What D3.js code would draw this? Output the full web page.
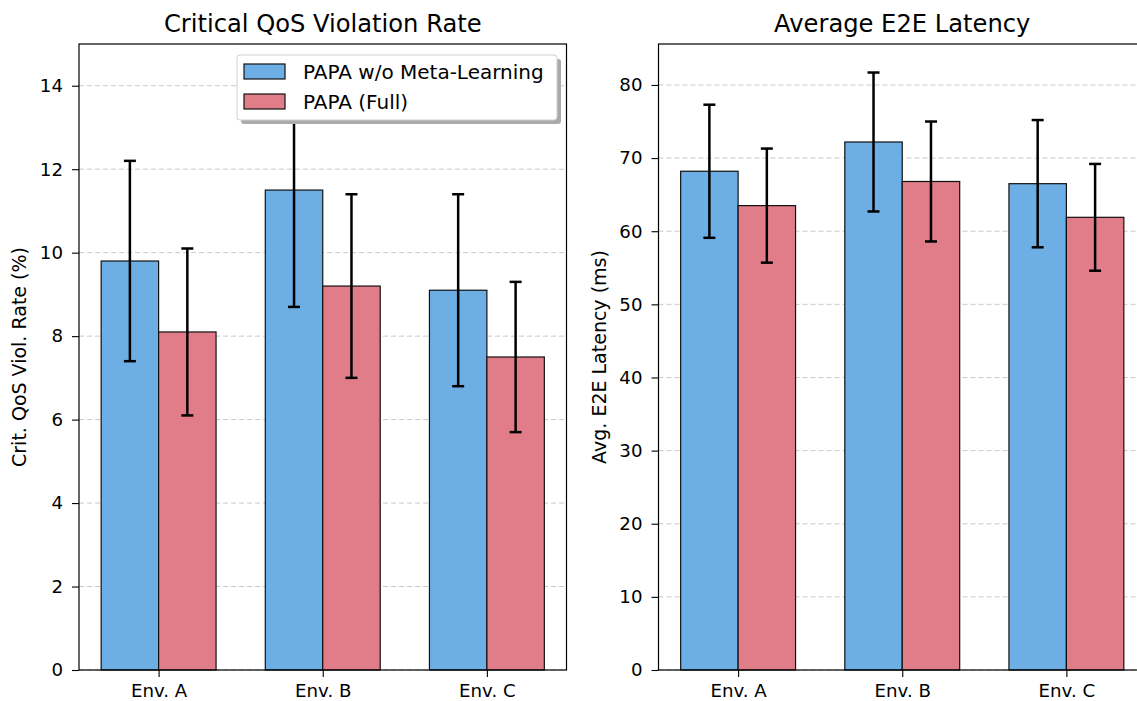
<!DOCTYPE html>
<html>
<head>
<meta charset="utf-8">
<script src="https://cdn.jsdelivr.net/npm/d3@7"></script>
<style>
  body { margin: 0; background: #fff; }
  svg { display: block; font-family: "DejaVu Sans", sans-serif; }
</style>
</head>
<body>
<svg id="chart" width="1137" height="701"></svg>
<script>
// data
const categories = ["Env. A", "Env. B", "Env. C"]
const seriesNames = ["PAPA w/o Meta-Learning", "PAPA (Full)"]
const seriesColors = ["#6daee5", "#e17d88"]

const violMeta = [9.8, 11.5, 9.1]
const violMetaErr = [2.4, 2.8, 2.3]
const violFull = [8.1, 9.2, 7.5]
const violFullErr = [2.0, 2.2, 1.8]
const violTicks = [0, 2, 4, 6, 8, 10, 12, 14]

const latMeta = [68.2, 72.2, 66.5]
const latMetaErr = [9.1, 9.5, 8.7]
const latFull = [63.5, 66.8, 61.9]
const latFullErr = [7.8, 8.2, 7.3]
const latTicks = [0, 10, 20, 30, 40, 50, 60, 70, 80]

const svg = d3.select("#chart")
const barW = 0.35

function drawPanel(opts) {
    let left = opts.left, right = opts.right
    let top = 44, bottom = 670
    let g = svg.append("g")

    let x = d3.scaleLinear()
        .domain([-0.485, categories.length - 1 + 0.485])
        .range([left, right])
    let y = d3.scaleLinear()
        .domain([0, opts.ymax])
        .range([bottom, top])

    // grid
    g.append("g")
        .selectAll("line")
        .data(opts.ticks)
        .join("line")
        .attr("x1", left)
        .attr("x2", right)
        .attr("y1", d => y(d))
        .attr("y2", d => y(d))
        .attr("stroke", "#c9c9c9")
        .attr("stroke-width", 1)
        .attr("stroke-dasharray", "5,3")

    let series = [
        {vals: opts.a, err: opts.aErr, off: -barW / 2, color: seriesColors[0]},
        {vals: opts.b, err: opts.bErr, off: barW / 2, color: seriesColors[1]}
    ]

    series.forEach(s => {
        g.append("g")
            .selectAll("rect")
            .data(s.vals)
            .join("rect")
            .attr("x", (d, i) => x(i + s.off - barW / 2))
            .attr("y", d => y(d))
            .attr("width", x(barW) - x(0))
            .attr("height", d => y(0) - y(d))
            .attr("fill", s.color)
            .attr("stroke", "#111")
            .attr("stroke-width", 1.2)
    })

    series.forEach(s => {
        let eb = g.append("g")
            .attr("stroke", "#000")
            .attr("stroke-width", 2.5)
        eb.selectAll("line.v")
            .data(s.vals)
            .join("line")
            .attr("class", "v")
            .attr("x1", (d, i) => x(i + s.off))
            .attr("x2", (d, i) => x(i + s.off))
            .attr("y1", (d, i) => y(d - s.err[i]))
            .attr("y2", (d, i) => y(d + s.err[i]))
        eb.selectAll("line.cap")
            .data(s.vals.flatMap((d, i) => [{i: i, v: d - s.err[i]}, {i: i, v: d + s.err[i]}]))
            .join("line")
            .attr("class", "cap")
            .attr("x1", d => x(d.i + s.off) - 6)
            .attr("x2", d => x(d.i + s.off) + 6)
            .attr("y1", d => y(d.v))
            .attr("y2", d => y(d.v))
    })

    // axes
    let yAxis = g.append("g")
        .attr("transform", `translate(${left},0)`)
        .call(d3.axisLeft(y).tickValues(opts.ticks).tickSize(7).tickPadding(9))
    let xAxis = g.append("g")
        .attr("transform", `translate(0,${bottom})`)
        .call(d3.axisBottom(x).tickValues(d3.range(categories.length))
            .tickFormat(i => categories[i]).tickSize(7).tickPadding(7))
    ;[yAxis, xAxis].forEach(a => {
        a.select(".domain").remove()
        a.selectAll(".tick line").attr("stroke", "#000").attr("stroke-width", 1.1)
        a.selectAll(".tick text").attr("font-size", 18.2).attr("fill", "#000")
            .attr("font-family", "DejaVu Sans, sans-serif")
    })

    // frame
    g.append("rect")
        .attr("x", left)
        .attr("y", top)
        .attr("width", right - left)
        .attr("height", bottom - top)
        .attr("fill", "none")
        .attr("stroke", "#000")
        .attr("stroke-width", 1.2)

    g.append("text")
        .attr("x", (left + right) / 2)
        .attr("y", 32)
        .attr("text-anchor", "middle")
        .attr("font-size", 24.2)
        .text(opts.title)

    g.append("text")
        .attr("transform", `translate(${left - 53},${(top + bottom) / 2}) rotate(-90)`)
        .attr("text-anchor", "middle")
        .attr("font-size", 19)
        .text(opts.ylabel)

    return g
}

drawPanel({
    left: 79, right: 566.5, ymax: 15,
    ticks: violTicks,
    a: violMeta, aErr: violMetaErr, b: violFull, bErr: violFullErr,
    title: "Critical QoS Violation Rate",
    ylabel: "Crit. QoS Viol. Rate (%)"
})

drawPanel({
    left: 658.5, right: 1146, ymax: 85.6,
    ticks: latTicks,
    a: latMeta, aErr: latMetaErr, b: latFull, bErr: latFullErr,
    title: "Average E2E Latency",
    ylabel: "Avg. E2E Latency (ms)"
})

// legend in the first panel
let lg = svg.append("g").attr("transform", "translate(237,55)")
lg.append("rect")
    .attr("x", 4).attr("y", 4)
    .attr("width", 320).attr("height", 65)
    .attr("rx", 3)
    .attr("fill", "#aaaaaa")
lg.append("rect")
    .attr("width", 320).attr("height", 65)
    .attr("rx", 3)
    .attr("fill", "#fff")
    .attr("stroke", "#d0d0d0")
    .attr("stroke-width", 1)
seriesNames.forEach((name, i) => {
    let row = lg.append("g").attr("transform", `translate(7,${17 + i * 30})`)
    row.append("rect")
        .attr("x", 0).attr("y", -8)
        .attr("width", 41).attr("height", 15)
        .attr("fill", seriesColors[i])
        .attr("stroke", "#111")
        .attr("stroke-width", 1.2)
    row.append("text")
        .attr("x", 59)
        .attr("y", 0)
        .attr("dy", "0.35em")
        .attr("font-size", 20)
        .text(name)
})
</script>
</body>
</html>
